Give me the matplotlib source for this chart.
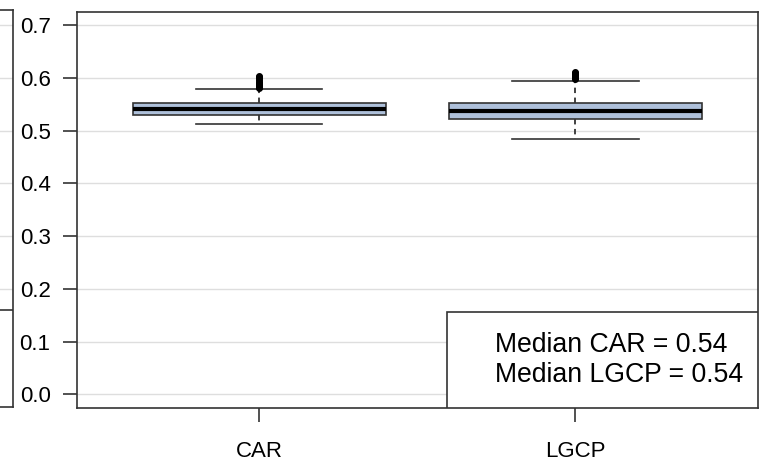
import matplotlib
matplotlib.use("Agg")
import matplotlib.pyplot as plt
from matplotlib.patches import Rectangle

plt.rcParams['font.family'] = ['Liberation Sans', 'DejaVu Sans']

# box summary values
groups = ['CAR', 'LGCP']
q1 = [0.530, 0.522]
med = [0.541, 0.538]
q3 = [0.552, 0.552]
whis_lo = [0.512, 0.484]
whis_hi = [0.578, 0.594]
fliers_car = [0.581, 0.583, 0.585, 0.587, 0.589, 0.591, 0.593, 0.596, 0.599, 0.602, 0.604]
fliers_lgcp = [0.597, 0.599, 0.601, 0.603, 0.605, 0.607, 0.609, 0.611]
fliers = [fliers_car, fliers_lgcp]
yticks = [0.0, 0.1, 0.2, 0.3, 0.4, 0.5, 0.6, 0.7]
legend_lines = ['Median CAR = 0.54', 'Median LGCP = 0.54']

edge = '#333333'
grid_col = '#dedede'

fig = plt.figure(figsize=(7.59, 4.61), dpi=100)

# neighbouring panel, mostly cut off on the left
axl = fig.add_axes([-0.5, 0.1171, 0.5171, 0.8612])
axl.set_ylim(-0.0241, 0.7291)
axl.set_xlim(0, 1)
for v in yticks:
    axl.axhline(v, color=grid_col, lw=1, zorder=0)
axl.add_patch(Rectangle((0, 0), 1, 0.2455, transform=axl.transAxes,
                        facecolor='white', edgecolor=edge, lw=1.2, zorder=3))
axl.set_xticks([])
axl.set_yticks([])
for s in axl.spines.values():
    s.set_color(edge)
    s.set_linewidth(1.2)

# main panel
ax = fig.add_axes([0.10145, 0.115, 0.8968, 0.859])
stats = []
for i, g in enumerate(groups):
    stats.append(dict(label=g, q1=q1[i], med=med[i], q3=q3[i],
                      whislo=whis_lo[i], whishi=whis_hi[i], fliers=fliers[i]))

ax.bxp(stats, positions=[1, 2], widths=0.8, capwidths=0.4, patch_artist=True,
       boxprops=dict(facecolor='#aec0da', edgecolor=edge, linewidth=1.2),
       medianprops=dict(color='black', linewidth=3),
       whiskerprops=dict(color=edge, linewidth=1.3, linestyle=(0, (3, 2.5))),
       capprops=dict(color=edge, linewidth=1.2),
       flierprops=dict(marker='o', markersize=4, markerfacecolor='black',
                       markeredgecolor='black', linestyle='none'))

ax.set_xlim(0.424, 2.576)
ax.set_ylim(-0.026, 0.725)
ax.set_yticks(yticks)
ax.set_yticklabels([f'{v:.1f}' for v in yticks])
ax.yaxis.grid(True, color=grid_col, lw=1)
ax.set_axisbelow(True)
ax.tick_params(axis='y', length=10, width=1.2, color=edge, pad=9, labelsize=16)
ax.tick_params(axis='x', length=10, width=1.2, color=edge, pad=14, labelsize=16)
for s in ax.spines.values():
    s.set_color(edge)
    s.set_linewidth(1.2)

# legend-like text box in the lower right
ax.add_patch(Rectangle((0.5436, 0), 1 - 0.5436, 0.2424, transform=ax.transAxes,
                       facecolor='white', edgecolor=edge, lw=1.2, zorder=5))
ax.text(0.614, 0.159, legend_lines[0], transform=ax.transAxes, fontsize=19.2,
        ha='left', va='center', zorder=6)
ax.text(0.614, 0.083, legend_lines[1], transform=ax.transAxes, fontsize=19.2,
        ha='left', va='center', zorder=6)

fig.savefig('out.png', dpi=100)
